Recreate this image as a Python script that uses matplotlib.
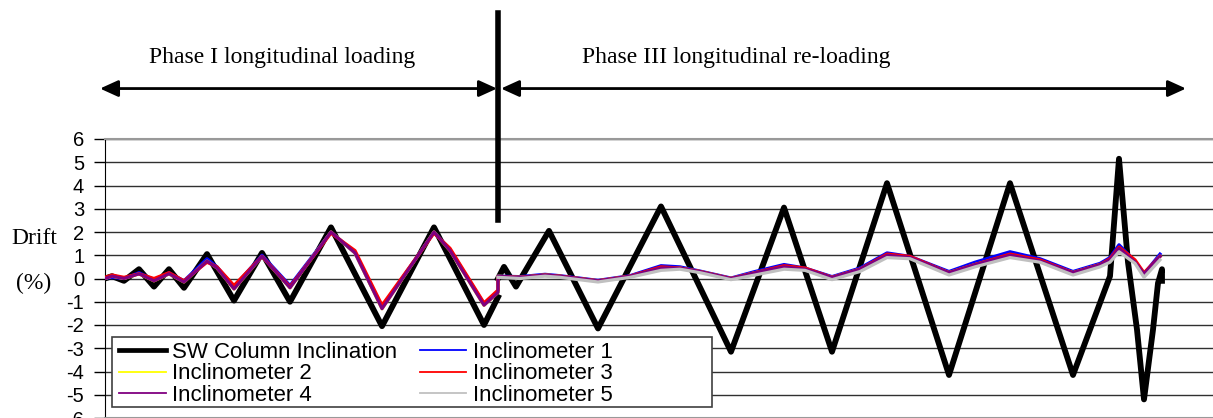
import matplotlib
matplotlib.use("Agg")
import matplotlib.pyplot as plt
from matplotlib.patches import Rectangle
import numpy as np

plt.rcParams["axes.unicode_minus"] = False

# === Dati (x = passo di prova, y = drift %) ===
sw_x = [0, 7, 19, 34, 49, 64, 79, 102, 129, 157, 185, 226, 277, 329, 379, 393,
        393,
        393, 399, 411, 444, 493, 556, 626, 679, 727, 782, 844, 905, 968,
        1005, 1014, 1023, 1032, 1039, 1048, 1053, 1057, 1057]
sw_drift = [0.0, 0.1, -0.1, 0.4, -0.35, 0.4, -0.4, 1.05, -0.95, 1.1, -1.0, 2.2, -2.05, 2.2, -2.0, -0.8,
            np.nan,
            0.0, 0.5, -0.35, 2.05, -2.15, 3.1, -3.15, 3.05, -3.15, 4.1, -4.15, 4.1, -4.15,
            0.1, 5.15, 0.7, -2.2, -5.2, -2.2, -0.2, 0.4, -0.1]

incl_x = [0, 7, 19, 34, 49, 64, 79, 102, 112, 129, 157, 185, 226, 250, 277, 329, 345, 379, 393,
          393, 415, 440, 455, 493, 525, 556, 575, 595, 626, 650, 679, 700, 727, 755, 782, 805,
          844, 870, 905, 935, 968, 995, 1005, 1014, 1030, 1039, 1055]

incl_1 = [0.0, 0.05, 0.0, 0.25, -0.05, 0.25, -0.1, 0.85, 0.5, -0.35, 1.0, -0.3, 2.0, 1.1, -1.25, 2.0, 1.25, -1.1, -0.55,
          0.1, 0.08, 0.18, 0.12, -0.08, 0.12, 0.55, 0.5, 0.32, 0.02, 0.3, 0.6, 0.45, 0.08, 0.45, 1.1, 0.95,
          0.3, 0.7, 1.15, 0.85, 0.3, 0.65, 0.9, 1.45, 0.75, 0.2, 1.05]
incl_2 = [0.0, 0.1, 0.0, 0.2, -0.1, 0.2, -0.15, 0.75, 0.45, -0.45, 0.95, -0.4, 2.0, 1.1, -1.3, 2.0, 1.2, -1.15, -0.6,
          0.1, 0.05, 0.15, 0.1, -0.1, 0.1, 0.45, 0.45, 0.3, 0.0, 0.25, 0.5, 0.4, 0.05, 0.4, 1.0, 0.9,
          0.25, 0.6, 1.0, 0.75, 0.25, 0.6, 0.8, 1.3, 0.7, 0.2, 0.95]
incl_3 = [0.05, 0.15, 0.05, 0.2, 0.0, 0.25, -0.1, 0.7, 0.5, -0.3, 0.95, -0.35, 1.95, 1.2, -1.15, 1.95, 1.3, -1.05, -0.5,
          0.08, 0.05, 0.15, 0.1, -0.1, 0.1, 0.5, 0.45, 0.3, 0.0, 0.25, 0.55, 0.45, 0.05, 0.4, 1.05, 0.95,
          0.25, 0.6, 1.05, 0.8, 0.25, 0.6, 0.85, 1.35, 0.8, 0.25, 0.95]
incl_4 = [0.0, 0.1, 0.0, 0.2, -0.1, 0.2, -0.15, 0.75, 0.45, -0.45, 0.95, -0.4, 2.0, 1.1, -1.3, 2.0, 1.2, -1.15, -0.6,
          0.1, 0.05, 0.15, 0.1, -0.1, 0.1, 0.45, 0.45, 0.3, 0.0, 0.25, 0.5, 0.4, 0.05, 0.4, 1.0, 0.9,
          0.25, 0.6, 1.0, 0.75, 0.25, 0.6, 0.8, 1.3, 0.7, 0.2, 0.95]
# inclinometro 5 assente nella fase I
incl_5 = [np.nan] * 19 + [
          0.05, 0.0, 0.1, 0.05, -0.15, 0.05, 0.35, 0.4, 0.25, -0.05, 0.15, 0.4, 0.35, -0.05, 0.3, 0.9, 0.85,
          0.15, 0.5, 0.9, 0.7, 0.15, 0.5, 0.7, 1.15, 0.65, 0.05, 0.8]

y_ticks = [6, 5, 4, 3, 2, 1, 0, -1, -2, -3, -4, -5, -6]
phase_split = 393

SANS = "Liberation Sans"
SERIF = "Liberation Serif"

fig = plt.figure(figsize=(12.13, 4.18), dpi=100)
W, H = 1213, 418
ax = fig.add_axes([105 / W, 0.0, 1108 / W, 279 / H])

ax.plot(sw_x, sw_drift, color="black", lw=4.2, zorder=2, label="SW Column Inclination")
ax.plot(incl_x, incl_1, color="#0000FF", lw=2.3, zorder=3, label="Inclinometer 1")
ax.plot(incl_x, incl_2, color="#FFFF00", lw=2.3, zorder=3, label="Inclinometer 2")
ax.plot(incl_x, incl_3, color="#FF0000", lw=2.3, zorder=3, label="Inclinometer 3")
ax.plot(incl_x, incl_4, color="#800080", lw=2.3, zorder=3, label="Inclinometer 4")
ax.plot(incl_x, incl_5, color="#C0C0C0", lw=2.3, zorder=3, label="Inclinometer 5")

ax.set_xlim(0, 1108)
ax.set_ylim(-6, 6)
ax.set_yticks(y_ticks)
ax.set_xticks([])
ax.grid(axis="y", color="#303030", lw=1.0)
ax.set_axisbelow(True)
ax.tick_params(axis="y", direction="out", length=8, width=1, pad=7, labelsize=14.5)
for lab in ax.get_yticklabels():
    lab.set_fontfamily(SANS)
ax.spines["right"].set_visible(False)
ax.spines["left"].set_color("black")
ax.spines["top"].set_color("#999999")
ax.spines["top"].set_linewidth(1.5)
ax.spines["bottom"].set_color("#999999")
ax.spines["bottom"].set_linewidth(1.5)

# riquadro della legenda (più largo del contenuto, come nell'originale)
box = Rectangle((7 / 1108, 11 / 279), 600 / 1108, 70 / 279, transform=ax.transAxes,
                facecolor="white", edgecolor="#404040", lw=1.2, zorder=4)
ax.add_patch(box)

# legenda a due colonne (ordine per colonne)
h, l = ax.get_legend_handles_labels()
order = [0, 2, 4, 1, 3, 5]
leg = ax.legend([h[i] for i in order], [l[i] for i in order], ncol=2,
                loc="upper left", bbox_to_anchor=(14 / 1108, 76 / 279), borderaxespad=0,
                prop={"family": SANS, "size": 16}, frameon=False,
                labelspacing=0.02, handlelength=2.1, handletextpad=0.3,
                columnspacing=1.0, borderpad=0)
leg.set_zorder(5)
for i, line in enumerate(leg.get_lines()):
    line.set_linewidth(3.4 if i == 0 else 1.3)

# separatore fra le fasi
ax.plot([phase_split, phase_split], [2.5, 11.4], color="black", lw=4, clip_on=False, zorder=5)

# frecce delle fasi
arrow_y = 8.17
ap = dict(arrowstyle="<|-|>,head_length=1.1,head_width=0.5", color="black", lw=2,
          shrinkA=0, shrinkB=0)
ax.annotate("", xy=(-5, arrow_y), xytext=(phase_split - 1, arrow_y),
            arrowprops=ap, annotation_clip=False)
ax.annotate("", xy=(phase_split + 3, arrow_y), xytext=(1081, arrow_y),
            arrowprops=ap, annotation_clip=False)

fig.text(282 / W, 1 - 57 / H, "Phase I longitudinal loading", ha="center", va="center",
         fontsize=17, fontfamily=SERIF)
fig.text(736 / W, 1 - 57 / H, "Phase III longitudinal re-loading", ha="center", va="center",
         fontsize=17, fontfamily=SERIF)
fig.text(34 / W, 1 - 238 / H, "Drift", ha="center", va="center", fontsize=17, fontfamily=SERIF)
fig.text(34 / W, 1 - 283 / H, "(%)", ha="center", va="center", fontsize=17, fontfamily=SERIF)

fig.savefig("out.png", dpi=100)
